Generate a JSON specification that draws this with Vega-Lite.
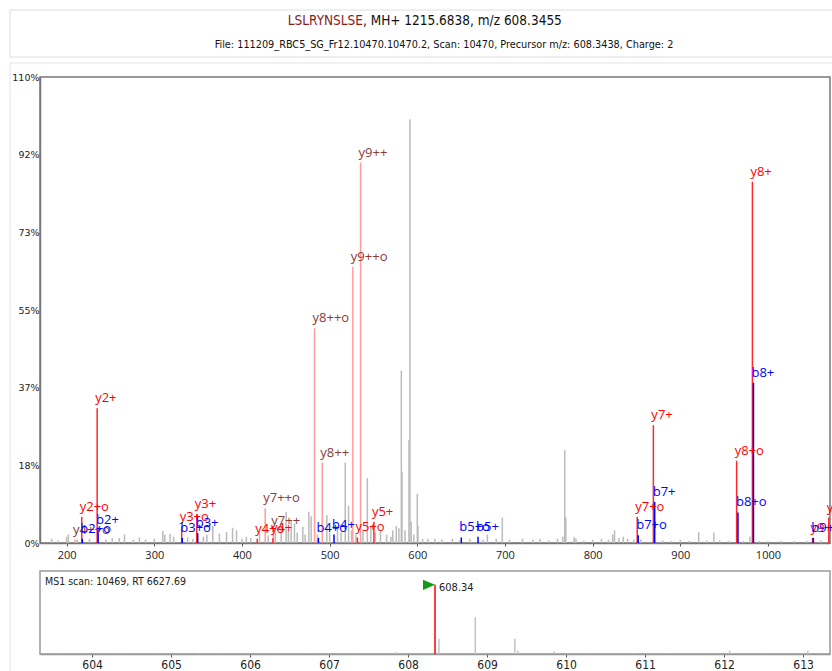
{
  "$schema": "https://vega.github.io/schema/vega-lite/v6.json",
  "padding": {"left": 8, "top": 9, "right": 0, "bottom": 0},
  "background": "white",
  "config": {"view": {"stroke": null}, "font": "Open Sans"},
  "datasets": {
    "head": [{"peptide": "LSLRYNSLSE", "rest": ", MH+ 1215.6838, m/z 608.3455", "file": "File: 111209_RBC5_SG_Fr12.10470.10470.2, Scan: 10470, Precursor m/z: 608.3438, Charge: 2", "ms1": "MS1 scan: 10469, RT 6627.69"}],
    "grey": [
      {"mz":183,"int":1.0},{"mz":190,"int":0.6},{"mz":200,"int":1.5},{"mz":202,"int":2.0},{"mz":212,"int":0.8},{"mz":226,"int":1.0},{"mz":245,"int":0.8},{"mz":252,"int":1.2},{"mz":260,"int":1.2},{"mz":266,"int":2.0},{"mz":276,"int":0.8},{"mz":283,"int":1.3},{"mz":290,"int":0.8},{"mz":300,"int":1.0},{"mz":309.7,"int":2.9},{"mz":312,"int":2.0},{"mz":318,"int":2.2},{"mz":322,"int":1.5},{"mz":338,"int":1.3},{"mz":344,"int":1.0},{"mz":356,"int":1.5},{"mz":360,"int":2.0},{"mz":366.7,"int":4.1},{"mz":374.3,"int":2.2},{"mz":382.4,"int":2.6},{"mz":389.3,"int":3.6},{"mz":393.8,"int":3.0},{"mz":400,"int":1.0},{"mz":405,"int":1.5},{"mz":410,"int":1.2},{"mz":420,"int":2.4},{"mz":430,"int":1.8},{"mz":438,"int":2.5},{"mz":444.7,"int":3.8},{"mz":450.4,"int":7.4},{"mz":453,"int":3.0},{"mz":456.1,"int":5.3},{"mz":459.9,"int":4.6},{"mz":463,"int":2.5},{"mz":469.4,"int":3.8},{"mz":472,"int":2.0},{"mz":476.3,"int":7.4},{"mz":478.9,"int":6.3},{"mz":486,"int":2.0},{"mz":496.8,"int":6.6},{"mz":500,"int":2.5},{"mz":509,"int":4.0},{"mz":513,"int":2.5},{"mz":517.8,"int":19.0},{"mz":521.6,"int":8.8},{"mz":525,"int":3.0},{"mz":530,"int":2.0},{"mz":538,"int":3.0},{"mz":543,"int":15.3},{"mz":547,"int":4.0},{"mz":552,"int":2.5},{"mz":558,"int":3.0},{"mz":565,"int":2.0},{"mz":570,"int":1.5},{"mz":572,"int":3.0},{"mz":576,"int":4.0},{"mz":579,"int":3.5},{"mz":581.8,"int":40.7},{"mz":582.5,"int":16.8},{"mz":586,"int":3.0},{"mz":590.5,"int":24.3},{"mz":591.6,"int":100},{"mz":593,"int":5.0},{"mz":596,"int":2.0},{"mz":600,"int":11.6},{"mz":600.8,"int":4.0},{"mz":606,"int":1.0},{"mz":612,"int":1.0},{"mz":620,"int":1.0},{"mz":628,"int":0.8},{"mz":640,"int":1.0},{"mz":648,"int":0.6},{"mz":660,"int":1.0},{"mz":675,"int":0.8},{"mz":680,"int":2.0},{"mz":690,"int":1.0},{"mz":697,"int":6.0},{"mz":705,"int":0.8},{"mz":720,"int":1.0},{"mz":732,"int":0.8},{"mz":740,"int":1.0},{"mz":750,"int":0.6},{"mz":760,"int":1.0},{"mz":766,"int":1.5},{"mz":768.2,"int":21.9},{"mz":769.4,"int":6.0},{"mz":779,"int":1.5},{"mz":781,"int":1.0},{"mz":790,"int":0.6},{"mz":800,"int":0.8},{"mz":810,"int":1.0},{"mz":818,"int":0.8},{"mz":823,"int":2.0},{"mz":825,"int":3.0},{"mz":830,"int":1.2},{"mz":835,"int":1.5},{"mz":840,"int":1.0},{"mz":847,"int":0.8},{"mz":855,"int":0.8},{"mz":880,"int":0.6},{"mz":890,"int":0.5},{"mz":900,"int":0.8},{"mz":910,"int":0.5},{"mz":921,"int":2.5},{"mz":930,"int":0.6},{"mz":938.3,"int":2.5},{"mz":945,"int":0.6},{"mz":955,"int":0.5},{"mz":972,"int":0.5},{"mz":979.5,"int":1.5},{"mz":990,"int":0.5},{"mz":1000,"int":0.5},{"mz":1015,"int":0.5},{"mz":1030,"int":0.5},{"mz":1045,"int":0.5},{"mz":1060,"int":0.6}
    ],
    "ions": [
      {"label":"y4++o","mz":209.6,"int":0.8,"type":"y2"},
      {"label":"y7++o","mz":426.5,"int":8.2,"type":"y2"},
      {"label":"y7++","mz":435.8,"int":2.8,"type":"y2"},
      {"label":"y8++o","mz":482.8,"int":50.7,"type":"y2"},
      {"label":"y8++","mz":491.6,"int":19.0,"type":"y2"},
      {"label":"y9++o","mz":526.5,"int":65.2,"type":"y2"},
      {"label":"y9++","mz":535.3,"int":89.8,"type":"y2"},
      {"label":"y2+o","mz":217.2,"int":6.2,"type":"y"},
      {"label":"y2+","mz":234.8,"int":31.8,"type":"y"},
      {"label":"y3+o","mz":331.2,"int":3.8,"type":"y"},
      {"label":"y3+","mz":348.4,"int":6.8,"type":"y"},
      {"label":"y4+o","mz":417.4,"int":1.0,"type":"y"},
      {"label":"y4+","mz":435.3,"int":1.1,"type":"y"},
      {"label":"y5+o","mz":531.7,"int":1.3,"type":"y"},
      {"label":"y5+","mz":550.5,"int":5.0,"type":"y"},
      {"label":"y7+o","mz":850.9,"int":6.2,"type":"y"},
      {"label":"y7+","mz":869.3,"int":27.8,"type":"y"},
      {"label":"y8+o","mz":964.3,"int":19.4,"type":"y"},
      {"label":"y8+","mz":982.3,"int":85.3,"type":"y"},
      {"label":"y9+o","mz":1050.9,"int":1.2,"type":"y"},
      {"label":"y9+","mz":1069.4,"int":6.0,"type":"y"},
      {"label":"b2+o","mz":217.9,"int":1.0,"type":"b"},
      {"label":"b2+","mz":235.9,"int":3.0,"type":"b"},
      {"label":"b3+o","mz":331.9,"int":1.2,"type":"b"},
      {"label":"b3+","mz":349.5,"int":2.3,"type":"b"},
      {"label":"b4+o","mz":487.2,"int":1.2,"type":"b"},
      {"label":"b4+","mz":505.0,"int":2.0,"type":"b"},
      {"label":"b5+o","mz":650.2,"int":1.3,"type":"b"},
      {"label":"b5+","mz":669.3,"int":1.5,"type":"b"},
      {"label":"b7+o","mz":852.0,"int":1.8,"type":"b"},
      {"label":"b7+","mz":870.8,"int":9.7,"type":"b"},
      {"label":"b8+o","mz":965.8,"int":7.2,"type":"b"},
      {"label":"b8+","mz":983.5,"int":37.8,"type":"b"},
      {"label":"b9+o","mz":1051.8,"int":1.2,"type":"b"}
    ],
    "ms1": [
      {"mz":603.6,"int":0.8,"kind":"grey"},{"mz":604.35,"int":1.2,"kind":"grey"},{"mz":604.8,"int":0.6,"kind":"grey"},{"mz":605.35,"int":1.2,"kind":"grey"},{"mz":605.6,"int":0.8,"kind":"grey"},{"mz":606.3,"int":0.8,"kind":"grey"},{"mz":606.7,"int":0.6,"kind":"grey"},{"mz":607.3,"int":0.8,"kind":"grey"},{"mz":607.85,"int":3.0,"kind":"grey"},{"mz":608.39,"int":22,"kind":"grey"},{"mz":608.85,"int":52.8,"kind":"grey"},{"mz":609.35,"int":22,"kind":"grey"},{"mz":609.39,"int":5,"kind":"grey"},{"mz":609.85,"int":4,"kind":"grey"},{"mz":610.3,"int":1.0,"kind":"grey"},{"mz":610.85,"int":1.0,"kind":"grey"},{"mz":611.3,"int":0.8,"kind":"grey"},{"mz":612.07,"int":5,"kind":"grey"},{"mz":612.5,"int":0.6,"kind":"grey"},{"mz":613.06,"int":5,"kind":"grey"},
      {"mz":608.34,"int":100,"kind":"prec","label":"608.34"}
    ]
  },
  "spacing": 28,
  "bounds": "flush",
  "vconcat": [
    {
      "width": 790,
      "height": 39,
      "data": {"name": "head"},
      "layer": [
        {"mark": {"type": "rect", "fill": "transparent", "stroke": "#dedede", "strokeWidth": 1},
         "encoding": {"x": {"value": -30}, "x2": {"value": 900}, "y": {"value": 0}, "y2": {"value": 47}}},
        {"mark": {"type": "text", "align": "right", "baseline": "middle", "fontSize": 13.5, "font": "DejaVu Sans Condensed", "color": "#8b1a1a"},
         "encoding": {"text": {"field": "peptide"}, "x": {"value": 323}, "y": {"value": 11}}},
        {"mark": {"type": "text", "align": "left", "baseline": "middle", "fontSize": 13.5, "font": "DejaVu Sans Condensed", "color": "#111111"},
         "encoding": {"text": {"field": "rest"}, "x": {"value": 323}, "y": {"value": 11}}},
        {"mark": {"type": "text", "align": "center", "baseline": "middle", "fontSize": 10.8, "font": "DejaVu Sans Condensed", "color": "#111111"},
         "encoding": {"text": {"field": "file"}, "x": {"value": 404}, "y": {"value": 35}}}
      ]
    },
    {
      "width": 790,
      "height": 466,
      "view": {"stroke": "#777777", "strokeWidth": 1.5},
      "resolve": {"scale": {"color": "independent"}},
      "layer": [
        {"data": {"name": "head"},
         "mark": {"type": "rect", "fill": "transparent", "stroke": "#e4e4e4", "strokeWidth": 1},
         "encoding": {"x": {"value": -30}, "x2": {"value": 900}, "y": {"value": -14}, "y2": {"value": 620}}},
        {"data": {"name": "grey"},
         "mark": {"type": "rule", "color": "#bbbbbb", "strokeWidth": 1.5},
         "encoding": {
           "x": {"field": "mz", "type": "quantitative", "scale": {"domain": [169.6, 1070.8], "nice": false, "zero": false},
                 "axis": {"values": [200,300,400,500,600,700,800,900,1000], "format": "d", "title": null, "grid": false, "domainColor": "#777777", "domainWidth": 1.5, "tickColor": "#555555", "tickSize": 3, "labelPadding": 3, "labelFontSize": 11, "labelColor": "#222222", "labelFont": "Open Sans", "labelFlush": false}},
           "y": {"field": "int", "type": "quantitative", "scale": {"domain": [0, 110], "nice": false},
                 "axis": {"values": [0, 18.3333, 36.6667, 55, 73.3333, 91.6667, 110], "labelExpr": "round(datum.value) + '%'", "title": null, "grid": false, "ticks": false, "labelPadding": 1, "labelFontSize": 9.5, "labelFont": "DejaVu Sans", "labelColor": "#222222", "labelFlush": false, "domainColor": "#777777", "domainWidth": 1.5}},
           "y2": {"datum": 0}
         }},
        {"data": {"name": "ions"},
         "mark": {"type": "rule"},
         "encoding": {
           "x": {"field": "mz", "type": "quantitative"},
           "y": {"field": "int", "type": "quantitative"},
           "y2": {"datum": 0},
           "color": {"field": "type", "type": "nominal", "scale": {"domain": ["y2", "y", "b"], "range": ["#ff9c9c", "#ff2a2a", "#0000ff"]}, "legend": null},
           "strokeWidth": {"field": "type", "type": "nominal", "scale": {"domain": ["y2", "y", "b"], "range": [1.5, 1.5, 2]}, "legend": null}
         }},
        {"data": {"name": "ions"},
         "mark": {"type": "text", "align": "left", "baseline": "alphabetic", "dx": -2, "dy": -6, "fontSize": 13, "font": "Open Sans"},
         "encoding": {
           "x": {"field": "mz", "type": "quantitative"},
           "y": {"field": "int", "type": "quantitative"},
           "text": {"field": "label"},
           "color": {"field": "type", "type": "nominal", "scale": {"domain": ["y2", "y", "b"], "range": ["#8b3a3a", "#ff0000", "#0000ff"]}, "legend": null}
         }}
      ]
    },
    {
      "width": 790,
      "height": 83,
      "view": {"stroke": "#999999", "strokeWidth": 1.5},
      "data": {"name": "ms1"},
      "layer": [
        {"transform": [{"filter": "datum.kind == 'grey'"}],
         "mark": {"type": "rule", "color": "#c4c4c4", "strokeWidth": 1.5},
         "encoding": {
           "x": {"field": "mz", "type": "quantitative", "scale": {"domain": [603.34, 613.34], "nice": false, "zero": false},
                 "axis": {"values": [604,605,606,607,608,609,610,611,612,613], "format": "d", "title": null, "grid": false, "domainColor": "#999999", "domainWidth": 1.5, "tickColor": "#555555", "tickSize": 3, "labelPadding": 2, "labelFontSize": 12, "labelFont": "DejaVu Sans Condensed", "labelColor": "#222222", "labelFlush": false}},
           "y": {"field": "int", "type": "quantitative", "scale": {"domain": [0, 120], "nice": false}, "axis": null},
           "y2": {"datum": 0}
         }},
        {"transform": [{"filter": "datum.kind == 'prec'"}],
         "mark": {"type": "rule", "color": "#ff0000", "strokeWidth": 1.5},
         "encoding": {
           "x": {"field": "mz", "type": "quantitative"},
           "y": {"field": "int", "type": "quantitative"},
           "y2": {"datum": 0}
         }},
        {"transform": [{"filter": "datum.kind == 'prec'"}],
         "mark": {"type": "point", "shape": "M -2 -0.85 L 0 0 L -2 0.85 Z", "filled": true, "color": "#139a13", "opacity": 1, "size": 144},
         "encoding": {
           "x": {"field": "mz", "type": "quantitative"},
           "y": {"field": "int", "type": "quantitative"}
         }},
        {"transform": [{"filter": "datum.kind == 'prec'"}],
         "mark": {"type": "text", "align": "left", "baseline": "middle", "dx": 4, "dy": 3, "fontSize": 11, "font": "DejaVu Sans Condensed", "color": "#222222"},
         "encoding": {
           "x": {"field": "mz", "type": "quantitative"},
           "y": {"field": "int", "type": "quantitative"},
           "text": {"field": "label"}
         }},
        {"data": {"name": "head"},
         "mark": {"type": "text", "align": "left", "baseline": "middle", "fontSize": 10.5, "font": "DejaVu Sans Condensed", "color": "#222222"},
         "encoding": {"text": {"field": "ms1"}, "x": {"value": 5}, "y": {"value": 11}}}
      ]
    }
  ]
}
